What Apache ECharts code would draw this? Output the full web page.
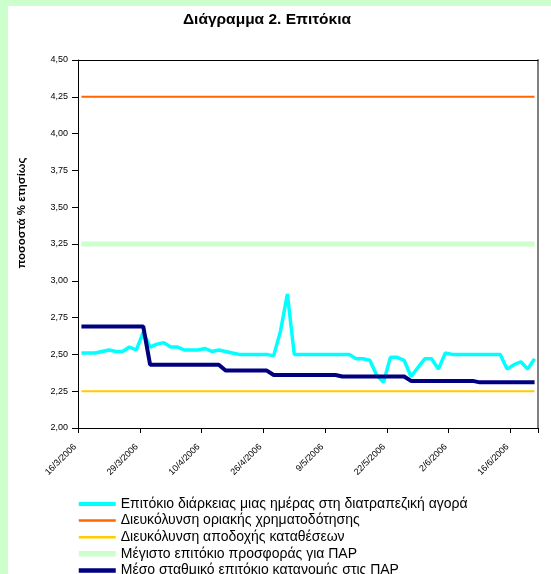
<!DOCTYPE html>
<html><head><meta charset="utf-8">
<script src="https://cdn.jsdelivr.net/npm/echarts@6/dist/echarts.min.js"></script>
<style>
html,body{margin:0;padding:0;background:#CCFFCC;width:551px;height:574px;overflow:hidden}
#c{position:absolute;left:8px;top:6px;width:543px;height:568px;background:#fff}
</style></head><body><div id="c"></div>
<script>
const dates = [
 '16/3/2006','17/3/2006','20/3/2006','21/3/2006','22/3/2006','23/3/2006','24/3/2006','27/3/2006','28/3/2006',
 '29/3/2006','30/3/2006','31/3/2006','3/4/2006','4/4/2006','5/4/2006','6/4/2006','7/4/2006','8/4/2006',
 '10/4/2006','11/4/2006','12/4/2006','13/4/2006','18/4/2006','19/4/2006','20/4/2006','21/4/2006','25/4/2006',
 '26/4/2006','27/4/2006','28/4/2006','1/5/2006','2/5/2006','3/5/2006','4/5/2006','5/5/2006','8/5/2006',
 '9/5/2006','10/5/2006','11/5/2006','12/5/2006','15/5/2006','16/5/2006','17/5/2006','18/5/2006','19/5/2006',
 '22/5/2006','23/5/2006','24/5/2006','25/5/2006','26/5/2006','29/5/2006','30/5/2006','31/5/2006','1/6/2006',
 '2/6/2006','5/6/2006','6/6/2006','7/6/2006','8/6/2006','9/6/2006','13/6/2006','14/6/2006','15/6/2006',
 '16/6/2006','19/6/2006','20/6/2006','21/6/2006'
];
const overnightRate = [
 2.51,2.51,2.51,2.52,2.53,2.52,2.52,2.55,2.53,
 2.65,2.55,2.57,2.58,2.55,2.55,2.53,2.53,2.53,
 2.54,2.52,2.53,2.52,2.51,2.50,2.50,2.50,2.50,
 2.50,2.49,2.66,2.91,2.50,2.50,2.50,2.50,2.50,
 2.50,2.50,2.50,2.50,2.47,2.47,2.46,2.36,2.31,
 2.48,2.48,2.46,2.35,2.41,2.47,2.47,2.40,2.51,
 2.50,2.50,2.50,2.50,2.50,2.50,2.50,2.50,2.40,
 2.43,2.45,2.40,2.47
];
const marginalLending = [
 4.25,4.25,4.25,4.25,4.25,4.25,4.25,4.25,4.25,
 4.25,4.25,4.25,4.25,4.25,4.25,4.25,4.25,4.25,
 4.25,4.25,4.25,4.25,4.25,4.25,4.25,4.25,4.25,
 4.25,4.25,4.25,4.25,4.25,4.25,4.25,4.25,4.25,
 4.25,4.25,4.25,4.25,4.25,4.25,4.25,4.25,4.25,
 4.25,4.25,4.25,4.25,4.25,4.25,4.25,4.25,4.25,
 4.25,4.25,4.25,4.25,4.25,4.25,4.25,4.25,4.25,
 4.25,4.25,4.25,4.25
];
const depositFacility = [
 2.25,2.25,2.25,2.25,2.25,2.25,2.25,2.25,2.25,
 2.25,2.25,2.25,2.25,2.25,2.25,2.25,2.25,2.25,
 2.25,2.25,2.25,2.25,2.25,2.25,2.25,2.25,2.25,
 2.25,2.25,2.25,2.25,2.25,2.25,2.25,2.25,2.25,
 2.25,2.25,2.25,2.25,2.25,2.25,2.25,2.25,2.25,
 2.25,2.25,2.25,2.25,2.25,2.25,2.25,2.25,2.25,
 2.25,2.25,2.25,2.25,2.25,2.25,2.25,2.25,2.25,
 2.25,2.25,2.25,2.25
];
const maxBidRate = [
 3.25,3.25,3.25,3.25,3.25,3.25,3.25,3.25,3.25,
 3.25,3.25,3.25,3.25,3.25,3.25,3.25,3.25,3.25,
 3.25,3.25,3.25,3.25,3.25,3.25,3.25,3.25,3.25,
 3.25,3.25,3.25,3.25,3.25,3.25,3.25,3.25,3.25,
 3.25,3.25,3.25,3.25,3.25,3.25,3.25,3.25,3.25,
 3.25,3.25,3.25,3.25,3.25,3.25,3.25,3.25,3.25,
 3.25,3.25,3.25,3.25,3.25,3.25,3.25,3.25,3.25,
 3.25,3.25,3.25,3.25
];
const weightedAvgRate = [
 2.69,2.69,2.69,2.69,2.69,2.69,2.69,2.69,2.69,
 2.69,2.43,2.43,2.43,2.43,2.43,2.43,2.43,2.43,
 2.43,2.43,2.43,2.39,2.39,2.39,2.39,2.39,2.39,
 2.39,2.36,2.36,2.36,2.36,2.36,2.36,2.36,2.36,
 2.36,2.36,2.35,2.35,2.35,2.35,2.35,2.35,2.35,
 2.35,2.35,2.35,2.32,2.32,2.32,2.32,2.32,2.32,
 2.32,2.32,2.32,2.32,2.31,2.31,2.31,2.31,2.31,
 2.31,2.31,2.31,2.31
];
const seriesNames = [
 'Επιτόκιο διάρκειας μιας ημέρας στη διατραπεζική αγορά',
 'Διευκόλυνση οριακής χρηματοδότησης',
 'Διευκόλυνση αποδοχής καταθέσεων',
 'Μέγιστο επιτόκιο προσφοράς για ΠΑΡ',
 'Μέσο σταθμικό επιτόκιο κατανομής στις ΠΑΡ'
];
const titleText = 'Διάγραμμα 2. Επιτόκια';
const yAxisName = 'ποσοστά % ετησίως';

const FONT = '"Liberation Sans", Arial, sans-serif';
const colors = ['#00FFFF', '#FF6600', '#FFCC00', '#CCFFCC', '#000080'];
const widths = [3.5, 2, 2, 5, 4];
const chart = echarts.init(document.getElementById('c'), null, {renderer: 'canvas'});
function line(i, data) {
  return {name: seriesNames[i], type: 'line', data, symbol: 'none', showSymbol: false, animation: false,
    lineStyle: {color: colors[i], width: widths[i]}, itemStyle: {color: colors[i]}, xAxisIndex: 0, yAxisIndex: 0};
}
chart.setOption({
  animation: false,
  textStyle: {fontFamily: FONT},
  graphic: [
    {type: 'text', x: 259, y: 14, style: {text: titleText, font: 'bold 15.5px ' + FONT, fill: '#000', align: 'center', verticalAlign: 'middle'}},
    {type: 'text', x: 14, y: 207, rotation: Math.PI / 2, style: {text: yAxisName, font: 'bold 11.5px ' + FONT, fill: '#000', align: 'center', verticalAlign: 'middle'}}
  ],
  grid: {left: 70, right: 13, top: 54, bottom: 146, containLabel: false},
  legend: {
    orient: 'vertical', left: 68, top: 491, height: 300, padding: 0,
    itemWidth: 37, itemHeight: 8, itemGap: 2.6,
    itemStyle: {color: 'rgba(0,0,0,0)', borderWidth: 0, opacity: 0},
    textStyle: {fontSize: 14, color: '#000', fontFamily: FONT},
    data: seriesNames.map((n, i) => ({name: n, lineStyle: {width: widths[i] + 0.5, color: colors[i]}}))
  },
  xAxis: [
    {type: 'category', data: dates, boundaryGap: true,
     axisLine: {lineStyle: {color: '#000', width: 1}},
     axisTick: {show: true, length: 5, interval: 8, lineStyle: {color: '#000'}},
     axisLabel: {interval: 8, rotate: 45, fontSize: 9, color: '#000', margin: 11, padding: [0, 9, 0, 0], fontFamily: FONT},
     splitLine: {show: false}},
    {type: 'category', data: dates, position: 'top', boundaryGap: true,
     axisLine: {lineStyle: {color: '#000', width: 1}}, axisTick: {show: false}, axisLabel: {show: false}, splitLine: {show: false}}
  ],
  yAxis: [
    {type: 'value', min: 2, max: 4.5, interval: 0.25,
     axisLine: {show: true, lineStyle: {color: '#000', width: 1}},
     axisTick: {show: true, length: 6, lineStyle: {color: '#000'}},
     axisLabel: {fontSize: 9, color: '#000', margin: 10, fontFamily: FONT, formatter: v => v.toFixed(2).replace('.', ',')},
     splitLine: {show: false}},
    {type: 'value', min: 2, max: 4.5, interval: 0.25, position: 'right',
     axisLine: {show: true, lineStyle: {color: '#808080', width: 2}}, axisTick: {show: false}, axisLabel: {show: false}, splitLine: {show: false}}
  ],
  series: [
    line(0, overnightRate),
    line(1, marginalLending),
    line(2, depositFacility),
    line(3, maxBidRate),
    line(4, weightedAvgRate)
  ]
});
</script></body></html>
